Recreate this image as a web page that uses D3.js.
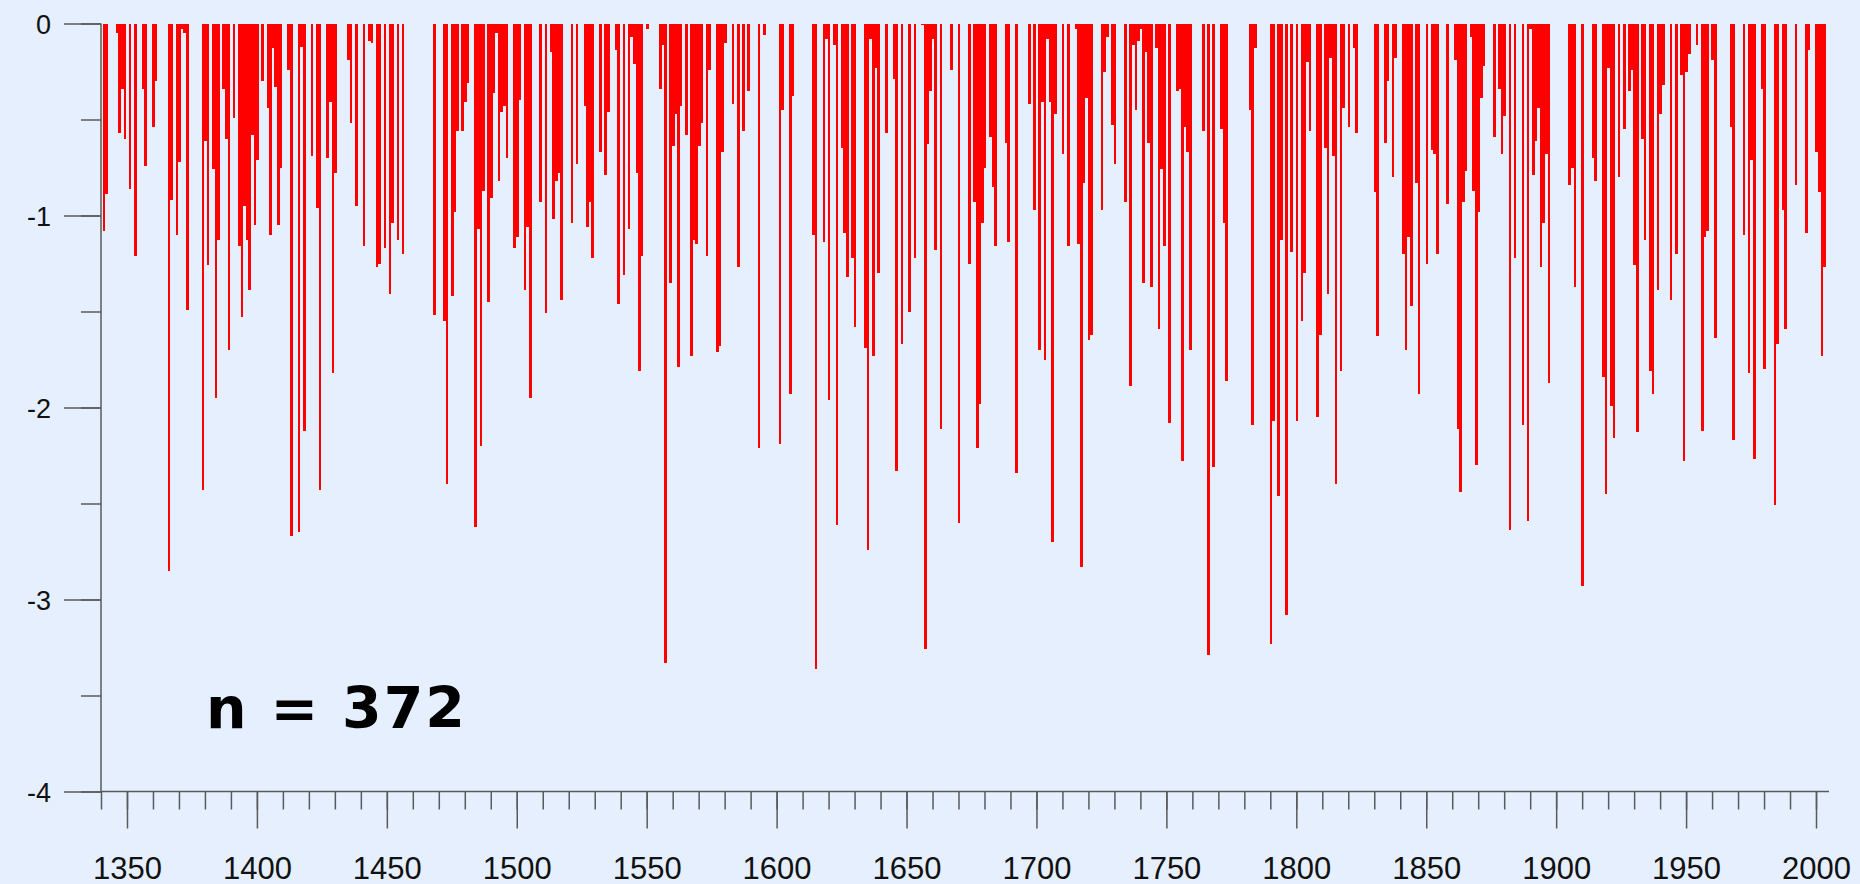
<!DOCTYPE html>
<html><head><meta charset="utf-8">
<script src="https://cdn.jsdelivr.net/npm/d3@7"></script>
<style>html,body{margin:0;padding:0;background:#E5EFFE;overflow:hidden}</style>
</head><body><svg id="c" width="1860" height="884"></svg>
<script>
const years = [
1341,1342,1346,1347,1348,1349,1351,1353,1356,1357,1360,1361,1366,1367,1369,1370,1371,1372,1373,1379,1380,1381,1383,1384,1385,1387,1388,1389,1391,1393,1394,1395,1396,1397,1398,1399,
1400,1402,1404,1405,1406,1407,1408,1409,1412,1413,1416,1417,1418,1421,1423,1424,1427,1428,1429,1430,1435,1436,1438,1441,1443,1444,1446,1447,1449,1451,1452,1454,1456,
1468,1472,1473,1475,1476,1477,1479,1480,1481,1484,1485,1486,1487,1489,1490,1491,1492,1493,1494,1495,1496,1499,
1500,1501,1503,1504,1505,1509,1511,1513,1514,1515,1516,1517,1521,1523,1526,1527,1528,1529,1532,1534,1535,1538,1539,1541,1543,1544,1545,1546,1547,1548,1550,1555,1556,1557,1559,1560,1561,1562,1563,1565,1567,1568,1569,1570,1571,1573,1574,1577,1578,1579,1580,1583,1585,1587,1589,1593,1595,
1601,1602,1605,1606,1614,1615,1618,1619,1620,1622,1623,1625,1626,1627,1629,1630,1634,1635,1636,1637,1638,1639,1642,1645,1646,1648,1651,1653,1656,1657,1658,1659,1660,1661,1663,1667,1670,1674,1676,1677,1678,1679,1680,1682,1683,1684,1688,1689,1692,1697,1699,
1701,1702,1703,1704,1705,1706,1707,1710,1712,1715,1716,1717,1718,1719,1720,1721,1725,1726,1727,1729,1730,1734,1736,1737,1738,1739,1740,1741,1742,1743,1744,1746,1747,1748,1749,1751,1754,1755,1756,1757,1758,1759,1764,1766,1768,1771,1772,1773,1782,1783,1784,1790,1791,1793,1794,1796,1798,
1800,1802,1803,1804,1805,1808,1809,1811,1812,1813,1814,1815,1817,1818,1820,1822,1823,1830,1831,1834,1835,1837,1838,1841,1842,1843,1844,1846,1847,1850,1852,1853,1854,1858,1861,1862,1863,1864,1865,1867,1868,1869,1870,1871,1872,1876,1878,1879,1880,1882,1884,1887,1889,1890,1891,1892,1893,1894,1895,1896,1897,
1905,1906,1907,1910,1914,1915,1918,1919,1920,1921,1922,1924,1926,1928,1929,1930,1931,1933,1934,1936,1937,1939,1940,1941,1944,1946,1948,1949,1950,1951,1954,1956,1957,1958,1960,1961,1967,1968,1972,1974,1975,1976,1979,1980,1984,1985,1987,1988,1992,1996,1997,
2000,2001,2002,2003
];
const values = [
-1.08,-0.89,-0.05,-0.57,-0.34,-0.60,-0.86,-1.21,-0.34,-0.74,-0.54,-0.30,-2.85,-0.92,-1.10,-0.72,-0.03,-0.05,-1.49,-2.43,-0.61,-1.26,-0.76,-1.95,-1.13,-0.34,-0.60,-1.70,-0.49,-1.16,-1.53,-0.95,-1.13,-1.39,-0.58,-1.05,
-0.71,-0.30,-0.44,-1.10,-0.13,-0.33,-1.05,-0.75,-0.24,-2.67,-2.65,-0.12,-2.12,-0.69,-0.96,-2.43,-0.70,-0.41,-1.82,-0.78,-0.19,-0.52,-0.95,-1.16,-0.09,-0.10,-1.27,-1.25,-1.17,-1.41,-1.04,-1.13,-1.20,
-1.52,-1.55,-2.40,-1.42,-0.98,-0.56,-0.56,-0.41,-0.31,-2.62,-1.07,-2.20,-0.87,-1.45,-0.91,-0.36,-0.05,-0.82,-0.46,-0.43,-0.70,-1.17,
-1.11,-0.40,-1.39,-1.06,-1.95,-0.93,-1.51,-0.15,-1.02,-0.82,-0.78,-1.44,-1.04,-0.73,-0.43,-1.06,-0.93,-1.22,-0.67,-0.79,-0.46,-0.14,-1.46,-1.31,-1.07,-0.07,-0.21,-0.78,-1.81,-1.21,-0.03,-0.34,-0.11,-3.33,-1.35,-0.64,-0.47,-1.79,-0.43,-0.58,-1.73,-1.13,-1.15,-0.64,-0.52,-1.21,-0.24,-1.71,-1.68,-0.67,-0.10,-0.42,-1.27,-0.56,-0.35,-2.21,-0.06,
-2.19,-0.45,-1.93,-0.38,-1.10,-3.36,-1.14,-0.08,-1.96,-0.11,-2.61,-0.65,-1.09,-1.32,-1.22,-1.58,-1.69,-2.74,-0.08,-1.73,-0.23,-1.30,-0.57,-0.29,-2.33,-1.67,-1.50,-1.22,-0.01,-3.26,-0.63,-0.35,-0.08,-1.18,-2.11,-0.24,-2.60,-1.25,-0.93,-2.21,-1.98,-1.04,-0.75,-0.59,-0.85,-1.16,-0.62,-1.14,-2.34,-0.42,-0.97,
-1.70,-0.41,-1.75,-0.08,-0.41,-2.70,-0.47,-0.68,-1.16,-0.03,-1.15,-2.83,-0.83,-0.39,-1.65,-1.62,-0.97,-0.25,-0.07,-0.53,-0.73,-0.93,-1.89,-0.11,-0.45,-0.09,-0.03,-1.35,-0.15,-0.62,-1.37,-0.13,-1.59,-0.76,-1.16,-2.08,-0.35,-0.34,-2.28,-0.54,-0.67,-1.70,-0.56,-3.29,-2.31,-0.55,-1.04,-1.86,-0.45,-2.09,-0.13,-3.23,-2.07,-2.46,-1.13,-3.08,-1.19,
-2.07,-1.55,-1.30,-0.20,-0.56,-2.05,-1.62,-0.65,-1.41,-0.18,-0.69,-2.40,-1.81,-0.44,-0.54,-0.13,-0.57,-0.88,-1.63,-0.62,-0.30,-0.80,-0.18,-1.20,-1.70,-1.11,-1.47,-0.83,-1.93,-1.25,-0.66,-0.68,-1.20,-0.94,-0.19,-2.11,-2.44,-0.93,-0.77,-0.07,-0.87,-2.30,-0.98,-0.39,-0.22,-0.59,-0.34,-0.68,-0.48,-2.64,-1.22,-2.09,-2.59,-0.03,-0.79,-0.61,-0.44,-1.27,-1.04,-0.68,-1.87,
-0.84,-0.75,-1.37,-2.93,-0.70,-0.82,-1.84,-2.45,-0.23,-1.99,-2.16,-0.80,-0.55,-0.35,-0.24,-1.26,-2.13,-0.60,-1.13,-1.81,-1.93,-1.39,-0.47,-0.32,-1.44,-1.20,-0.27,-2.28,-0.25,-0.16,-0.11,-2.12,-1.11,-1.08,-0.19,-1.64,-0.54,-2.17,-1.10,-1.82,-0.71,-2.27,-0.34,-1.80,-2.51,-1.67,-0.97,-1.59,-0.84,-1.09,-0.14,
-0.67,-0.88,-1.73,-1.27
];
const xMinorTicks = d3.range(1340, 2001, 10);
const xLabelTicks = d3.range(1350, 2001, 50);
const yMinorTicks = [0, -0.5, -1, -1.5, -2, -2.5, -3, -3.5, -4];
const yLabelTicks = [0, -1, -2, -3, -4];
const annotation = "n = 372";

const svg = d3.select("#c");
const x = d3.scaleLinear().domain([1340, 2005]).range([101, 1829]);
const y = d3.scaleLinear().domain([0, -4]).range([23.5, 791.5]);
const axisColor = "#5a5a5a";

const data = years.map((yr, i) => ({year: yr, value: values[i]}));
const bw = x(1341) - x(1340);

svg.append("g").selectAll("rect").data(data).enter().append("rect")
  .attr("x", d => x(d.year) + 0.6 - bw / 2)
  .attr("width", bw)
  .attr("y", y(0))
  .attr("height", d => y(d.value) - y(0))
  .attr("fill", "#FF0000")
  .attr("shape-rendering", "crispEdges");

// Y axis
const gy1 = svg.append("g").attr("transform", `translate(${x(1340)},0)`)
  .call(d3.axisLeft(y).tickValues(yMinorTicks).tickSize(20).tickFormat(""));
const gy2 = svg.append("g").attr("transform", `translate(${x(1340)},0)`)
  .call(d3.axisLeft(y).tickValues(yLabelTicks).tickSize(37).tickFormat(d => String(d)));
// X axis
const gx1 = svg.append("g").attr("transform", `translate(0,${y(-4)})`)
  .call(d3.axisBottom(x).tickValues(xMinorTicks).tickSize(18).tickFormat(""));
const gx2 = svg.append("g").attr("transform", `translate(0,${y(-4)})`)
  .call(d3.axisBottom(x).tickValues(xLabelTicks).tickSize(37).tickFormat(d => String(d)));

[gy1, gy2, gx1, gx2].forEach(g => {
  g.select(".domain").remove();
  g.selectAll("line").attr("stroke", axisColor).attr("stroke-width", 1.5);
});
gx2.selectAll("text")
  .attr("y", 87).attr("dy", 0)
  .attr("fill", "#111")
  .style("font-family", "'Liberation Sans', Arial, sans-serif")
  .style("font-size", "31px");
gy2.selectAll("text")
  .attr("x", -50).attr("dy", "0.36em")
  .attr("fill", "#111")
  .style("font-family", "'Liberation Sans', Arial, sans-serif")
  .style("font-size", "27px");

// axis lines
svg.append("line")
  .attr("x1", x(1340)).attr("x2", x(1340))
  .attr("y1", y(0)).attr("y2", y(-4))
  .attr("stroke", axisColor).attr("stroke-width", 1.5);
svg.append("line")
  .attr("x1", x(1340)).attr("x2", x(2005))
  .attr("y1", y(-4)).attr("y2", y(-4))
  .attr("stroke", axisColor).attr("stroke-width", 1.5);

svg.append("text")
  .attr("x", 206).attr("y", 728)
  .attr("fill", "#000")
  .style("font-family", "'DejaVu Sans', sans-serif")
  .style("font-weight", "bold")
  .style("font-size", "57px")
  .style("letter-spacing", "2px")
  .text(annotation);
</script>
</body></html>
